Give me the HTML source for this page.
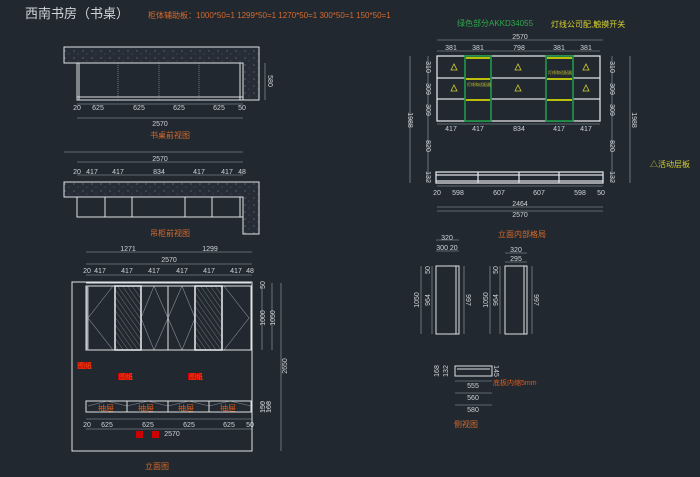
<!DOCTYPE html>
<html><head><meta charset="utf-8"><style>
html,body{margin:0;padding:0;background:#212830;}
svg{display:block}
text{font-family:"Liberation Sans","Noto Sans CJK SC",sans-serif;}
</style></head><body>
<svg width="700" height="477" viewBox="0 0 700 477" xmlns="http://www.w3.org/2000/svg">
<defs>
<pattern id="spk" width="9" height="7" patternUnits="userSpaceOnUse">
<rect width="9" height="7" fill="#262d36"/>
<circle cx="2" cy="2" r="0.5" fill="#9aa"/><circle cx="6" cy="5" r="0.4" fill="#889"/>
</pattern>
<pattern id="hatch" width="4" height="4" patternUnits="userSpaceOnUse" patternTransform="rotate(-35)">
<line x1="0" y1="0" x2="0" y2="4" stroke="#8a9099" stroke-width="0.7"/>
</pattern>
</defs>
<rect width="700" height="477" fill="#212830"/>
<text x="25" y="18" font-size="13" fill="#d0d4d8">西南书房（书桌）</text>
<text x="148" y="18" font-size="8" fill="#d86a2a">柜体辅助板：1000*50=1   1299*50=1   1270*50=1    300*50=1  150*50=1</text>

<!-- Desk front view -->
<g stroke="#dfe2e5" stroke-width="1" fill="none">
<path d="M64,47 H259 V100 H243 V63 H64 Z" fill="url(#spk)"/>
<rect x="77" y="63" width="166" height="37"/>
<line x1="79" y1="63" x2="79" y2="100"/><line x1="240" y1="63" x2="240" y2="100"/>
<line x1="77" y1="97" x2="243" y2="97"/>
</g>
<g stroke="#aab" stroke-width="0.6" stroke-dasharray="1,1"><line x1="118" y1="63" x2="118" y2="100"/><line x1="159" y1="63" x2="159" y2="100"/><line x1="199" y1="63" x2="199" y2="100"/></g>
<g stroke="#9aa" stroke-width="0.6" fill="none">
<line x1="77" y1="104" x2="243" y2="104"/><line x1="77" y1="118" x2="243" y2="118"/>
<line x1="265" y1="63" x2="265" y2="100"/>
<line x1="64" y1="152" x2="243" y2="152"/><line x1="77" y1="162" x2="243" y2="162"/><line x1="77" y1="175" x2="243" y2="175"/>
</g>
<g fill="#d0d4d8" font-size="7" text-anchor="middle">
<text x="77" y="110">20</text><text x="98" y="110">625</text><text x="139" y="110">625</text><text x="179" y="110">625</text><text x="219" y="110">625</text><text x="242" y="110">50</text>
<text x="160" y="126">2570</text>
<text transform="translate(268,81) rotate(90)" >580</text>
<text x="160" y="161">2570</text>
<text x="77" y="174">20</text><text x="92" y="174">417</text><text x="118" y="174">417</text><text x="159" y="174">834</text><text x="199" y="174">417</text><text x="227" y="174">417</text><text x="242" y="174">48</text>
<text transform="translate(252,208) rotate(90)">320</text>
</g>
<text x="170" y="138" font-size="8" fill="#d86a2a" text-anchor="middle">书桌前视图</text>

<!-- hanging cabinet -->
<g stroke="#dfe2e5" stroke-width="1" fill="none">
<path d="M64,182 H259 V234 H243 V197 H64 Z" fill="url(#spk)"/>
<rect x="77" y="197" width="166" height="20"/>
<line x1="105" y1="197" x2="105" y2="217"/><line x1="132" y1="197" x2="132" y2="217"/><line x1="185" y1="197" x2="185" y2="217"/><line x1="212" y1="197" x2="212" y2="217"/><line x1="240" y1="197" x2="240" y2="217"/>
</g>
<text x="170" y="236" font-size="8" fill="#d86a2a" text-anchor="middle">吊柜前视图</text>

<!-- Elevation -->
<g stroke="#9aa" stroke-width="0.6" fill="none">
<line x1="86" y1="252" x2="252" y2="252"/><line x1="86" y1="264" x2="252" y2="264"/><line x1="86" y1="275" x2="252" y2="275"/>
<line x1="262" y1="286" x2="262" y2="350"/><line x1="272" y1="283" x2="272" y2="350"/><line x1="281" y1="283" x2="281" y2="451"/>
<line x1="86" y1="419" x2="252" y2="419"/><line x1="86" y1="429" x2="252" y2="429"/>
<line x1="262" y1="401" x2="262" y2="412"/><line x1="268" y1="401" x2="268" y2="412"/>
</g>
<g fill="#d0d4d8" font-size="7" text-anchor="middle">
<text x="128" y="251">1271</text><text x="210" y="251">1299</text><text x="169" y="262">2570</text>
<text x="87" y="273">20</text><text x="100" y="273">417</text><text x="127" y="273">417</text><text x="154" y="273">417</text><text x="182" y="273">417</text><text x="209" y="273">417</text><text x="236" y="273">417</text><text x="250" y="273">48</text>
<text transform="translate(265,285) rotate(-90)">50</text>
<text transform="translate(265,318) rotate(-90)">1000</text>
<text transform="translate(275,318) rotate(-90)">1050</text>
<text transform="translate(287,366) rotate(-90)">2650</text>
<text transform="translate(265,407) rotate(-90)">150</text>
<text transform="translate(271,407) rotate(-90)">168</text>
<text x="87" y="427">20</text><text x="107" y="427">625</text><text x="148" y="427">625</text><text x="189" y="427">625</text><text x="229" y="427">625</text><text x="250" y="427">50</text>
<text x="172" y="436">2570</text>
</g>
<g stroke="#8a9099" stroke-width="0.6" fill="none">
<path d="M113,286 L88,318 L113,350"/>
<path d="M154,286 L141,318 L154,350 L168,318 Z"/>
<path d="M182,286 L168,318 L182,350 L195,318 Z"/>
<path d="M224,286 L249,318 L224,350"/>
<path d="M88,406 L107,401 L127,406 M127,406 L148,401 L168,406 M168,406 L189,401 L209,406 M209,406 L230,401 L251,406"/>
</g>
<g stroke="#dfe2e5" stroke-width="1" fill="none">
<rect x="72" y="282" width="180" height="169"/>
<rect x="86" y="286" width="165" height="64"/>
<line x1="86" y1="283" x2="251" y2="283"/>
<line x1="87.5" y1="286" x2="87.5" y2="350" stroke-width="2" stroke="#aab"/>
<rect x="115" y="286" width="26" height="64" fill="url(#hatch)" stroke-width="1.6"/>
<rect x="195" y="286" width="27" height="64" fill="url(#hatch)" stroke-width="1.6"/>
<line x1="168" y1="286" x2="168" y2="350"/>
<rect x="86" y="401" width="165" height="11"/>
<line x1="127" y1="401" x2="127" y2="412"/><line x1="168" y1="401" x2="168" y2="412"/><line x1="209" y1="401" x2="209" y2="412"/>
</g>
<g font-size="7" fill="#e05a1a">
<rect x="77" y="362" width="14" height="7" fill="#c00"/><text x="78" y="368">图纸</text>
<rect x="118" y="373" width="14" height="7" fill="#c00"/><text x="119" y="379">图纸</text>
<rect x="188" y="373" width="14" height="7" fill="#c00"/><text x="189" y="379">图纸</text>
<rect x="136" y="431" width="7" height="7" fill="#c00"/><rect x="152" y="431" width="7" height="7" fill="#c00"/>
<text x="98" y="411" font-size="8">抽屉</text><text x="138" y="411" font-size="8">抽屉</text><text x="178" y="411" font-size="8">抽屉</text><text x="220" y="411" font-size="8">抽屉</text>
</g>
<text x="157" y="469" font-size="8" fill="#d86a2a" text-anchor="middle">立面图</text>

<!-- Right top -->
<text x="457" y="26" font-size="8" fill="#2fa84a">绿色部分AKKD34055</text>
<text x="551" y="27" font-size="8" fill="#d8d030">灯线公司配,触摸开关</text>
<g stroke="#9aa" stroke-width="0.6" fill="none">
<line x1="437" y1="40" x2="603" y2="40"/><line x1="437" y1="51" x2="600" y2="51"/>
<line x1="428" y1="56" x2="428" y2="183"/><line x1="410" y1="56" x2="410" y2="183"/>
<line x1="612" y1="56" x2="612" y2="183"/><line x1="630" y1="56" x2="630" y2="183"/>
<line x1="437" y1="124" x2="600" y2="124"/>
<line x1="437" y1="186" x2="603" y2="186"/><line x1="437" y1="207" x2="603" y2="207"/><line x1="437" y1="211" x2="603" y2="211"/>
</g>
<g stroke="#dfe2e5" stroke-width="1.3" fill="none">
<rect x="437" y="56" width="163" height="65"/>
<line x1="437" y1="78" x2="600" y2="78"/><line x1="437" y1="99" x2="600" y2="99"/>
<rect x="436" y="172" width="167" height="11"/>
<line x1="436" y1="175" x2="603" y2="175"/><line x1="436" y1="181" x2="603" y2="181"/>
<line x1="478" y1="172" x2="478" y2="183"/><line x1="519" y1="172" x2="519" y2="183"/><line x1="559" y1="172" x2="559" y2="183"/>
</g>
<g stroke="#1f9a4a" stroke-width="1.6" fill="#212830">
<rect x="465" y="56" width="26" height="65"/><rect x="546" y="56" width="27" height="65"/>
</g>
<g stroke="#f0f000" stroke-width="1.5">
<line x1="466" y1="58" x2="490" y2="58"/><line x1="466" y1="79" x2="490" y2="79"/><line x1="466" y1="100" x2="490" y2="100"/>
<line x1="547" y1="58" x2="572" y2="58"/><line x1="547" y1="79" x2="572" y2="79"/><line x1="547" y1="100" x2="572" y2="100"/>
</g>
<g fill="#c8c030" font-size="4"><text x="467" y="86">灯线和适配器</text><text x="548" y="74">灯线和适配器</text></g>
<g fill="none" stroke="#d8d030" stroke-width="0.8">
<path d="M451,70 L454,64 L457,70 Z"/><path d="M451,91 L454,85 L457,91 Z"/>
<path d="M515,70 L518,64 L521,70 Z"/><path d="M515,91 L518,85 L521,91 Z"/>
<path d="M583,70 L586,64 L589,70 Z"/><path d="M583,91 L586,85 L589,91 Z"/>
</g>
<g fill="#d0d4d8" font-size="7" text-anchor="middle">
<text x="520" y="39">2570</text>
<text x="451" y="50">381</text><text x="478" y="50">381</text><text x="519" y="50">798</text><text x="559" y="50">381</text><text x="586" y="50">381</text>
<text x="451" y="131">417</text><text x="478" y="131">417</text><text x="519" y="131">834</text><text x="559" y="131">417</text><text x="586" y="131">417</text>
<text x="437" y="195">20</text><text x="458" y="195">598</text><text x="499" y="195">607</text><text x="539" y="195">607</text><text x="580" y="195">598</text><text x="601" y="195">50</text>
<text x="520" y="206">2464</text><text x="520" y="217">2570</text>
<text transform="translate(426,67) rotate(90)">310</text><text transform="translate(426,89) rotate(90)">309</text><text transform="translate(426,110) rotate(90)">309</text>
<text transform="translate(426,146) rotate(90)">820</text><text transform="translate(426,177) rotate(90)">132</text>
<text transform="translate(408,120) rotate(90)">1988</text>
<text transform="translate(610,67) rotate(90)">310</text><text transform="translate(610,89) rotate(90)">309</text><text transform="translate(610,110) rotate(90)">309</text>
<text transform="translate(610,146) rotate(90)">820</text><text transform="translate(610,177) rotate(90)">132</text>
<text transform="translate(632,120) rotate(90)">1988</text>
</g>
<text x="650" y="167" font-size="8" fill="#d8d030">△活动层板</text>
<text x="522" y="237" font-size="8" fill="#d86a2a" text-anchor="middle">立面内部格局</text>

<!-- side views -->
<g stroke="#dfe2e5" stroke-width="1" fill="none">
<rect x="436" y="266" width="23" height="68"/><line x1="456" y1="266" x2="456" y2="334"/>
<rect x="505" y="266" width="22" height="68"/><line x1="524" y1="266" x2="524" y2="334"/>
<rect x="455" y="366" width="37" height="10"/><line x1="457" y1="369" x2="490" y2="369"/>
</g>
<g stroke="#9aa" stroke-width="0.6" fill="none">
<line x1="436" y1="240" x2="459" y2="240"/><line x1="436" y1="251" x2="459" y2="251"/>
<line x1="505" y1="253" x2="527" y2="253"/><line x1="505" y1="262" x2="527" y2="262"/>
<line x1="421" y1="266" x2="421" y2="334"/><line x1="432" y1="266" x2="432" y2="334"/><line x1="464" y1="266" x2="464" y2="334"/>
<line x1="490" y1="266" x2="490" y2="334"/><line x1="500" y1="266" x2="500" y2="334"/><line x1="532" y1="266" x2="532" y2="334"/>
<line x1="455" y1="381" x2="492" y2="381"/><line x1="455" y1="393" x2="492" y2="393"/><line x1="455" y1="405" x2="492" y2="405"/>
</g>
<g fill="#d0d4d8" font-size="7" text-anchor="middle">
<text x="447" y="240">320</text><text x="447" y="250">300 20</text>
<text x="516" y="252">320</text><text x="516" y="261">295</text>
<text transform="translate(419,300) rotate(-90)">1050</text><text transform="translate(430,300) rotate(-90)">964</text><text transform="translate(430,270) rotate(-90)">50</text>
<text transform="translate(466,300) rotate(90)">997</text>
<text transform="translate(488,300) rotate(-90)">1050</text><text transform="translate(498,300) rotate(-90)">964</text><text transform="translate(498,270) rotate(-90)">50</text>
<text transform="translate(534,300) rotate(90)">997</text>
<text transform="translate(439,371) rotate(-90)">168</text><text transform="translate(448,371) rotate(-90)">132</text><text transform="translate(494,371) rotate(90)">145</text>
<text x="473" y="388">555</text><text x="473" y="400">560</text><text x="473" y="412">580</text>
</g>
<text x="493" y="385" font-size="7" fill="#e05a1a">底板内缩5mm</text>
<text x="466" y="427" font-size="8" fill="#d86a2a" text-anchor="middle">侧视图</text>
</svg>
</body></html>
